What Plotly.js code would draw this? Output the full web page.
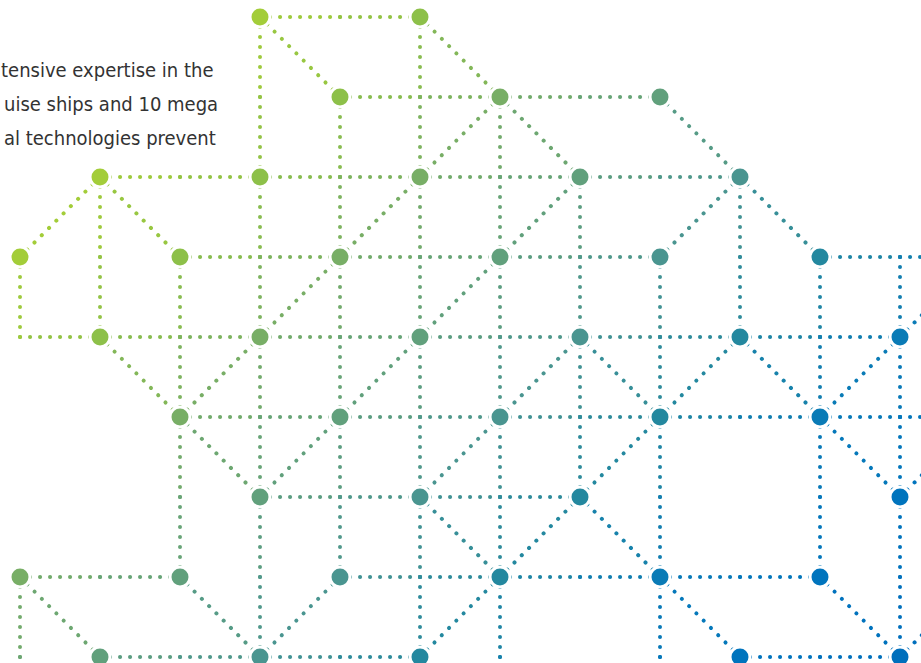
<!DOCTYPE html>
<html>
<head>
<meta charset="utf-8">
<script src="https://cdn.plot.ly/plotly-3.0.1.min.js"></script>
<style>
  html, body { margin: 0; padding: 0; background: #ffffff; }
  #chart { width: 921px; height: 663px; }
  .scatterlayer .js-line { stroke-linecap: round !important; }
</style>
</head>
<body>
<div id="chart"></div>
<script>
// ---- Data (grid coordinates: column, row) ----
const nodeCols = [3,5, 4,6,8, 1,3,5,7,9, 0,2,4,6,8,10, 1,3,5,7,9,11, 2,4,6,8,10, 3,5,7,11, 0,2,4,6,8,10, 1,3,5,9,11];
const nodeRows = [0,0, 1,1,1, 2,2,2,2,2, 3,3,3,3,3,3, 4,4,4,4,4,4, 5,5,5,5,5, 6,6,6,6, 7,7,7,7,7,7, 8,8,8,8,8];

// horizontal runs: [row, fromCol, toCol]
const hRuns = [[0,3,5],[1,4,8],[2,1,9],[3,2,8],[3,10,11.6],[4,0,11],[5,2,11.6],[6,3,7],[7,0,2],[7,4,10],[8,1,5],[8,9,11]];
// vertical runs: [col, fromRow, toRow]
const vRuns = [[0,3,4],[0,7,8.3],[1,2,4],[2,3,7],[3,0,8],[4,1,7],[5,0,8],[6,1,8.3],[7,2,6],[8,3,8.3],[9,2,4],[10,3,7],[11,3,8]];
// diagonal links: [col1,row1,col2,row2]
const dLinks = [[3,0,4,1],[5,0,6,1],[6,1,5,2],[6,1,7,2],[8,1,9,2],[9,2,8,3],[9,2,10,3],[7,2,6,3],[5,2,4,3],
  [1,2,0,3],[1,2,2,3],[4,3,3,4],[6,3,5,4],[3,4,2,5],[1,4,2,5],[5,4,4,5],[7,4,6,5],[7,4,8,5],[9,4,8,5],
  [9,4,10,5],[11,4,10,5],[11,4,11.6,3.4],[2,5,3,6],[4,5,3,6],[6,5,5,6],[8,5,7,6],[10,5,11,6],[11,6,11.6,5.4],
  [5,6,6,7],[7,6,6,7],[7,6,8,7],[0,7,1,8],[2,7,3,8],[4,7,3,8],[6,7,5,8],[8,7,9,8],[10,7,11,8],[11,8,11.6,7.4]];

// text fragments (cut off at the left edge in the original)
const textLines = ["tensive expertise in the", "uise ships and 10 mega", "al technologies prevent"];

// ---- Styling helpers ----
const STEP = 80; // px per grid unit
const OX = 20, OY = 17;
const stops = [[277,'#a3cd39'],[437,'#8dc049'],[597,'#78ae66'],[757,'#61a07c'],[917,'#4a9590'],
               [1077,'#24889f'],[1237,'#0a7bb6'],[1397,'#0074bd'],[1557,'#006fbc']];
function hex2rgb(h){ return [parseInt(h.slice(1,3),16),parseInt(h.slice(3,5),16),parseInt(h.slice(5,7),16)]; }
function colorAt(c, r){
  const t = (OX + STEP*c) + (OY + STEP*r);
  if (t <= stops[0][0]) return stops[0][1];
  if (t >= stops[stops.length-1][0]) return stops[stops.length-1][1];
  for (let i=0;i<stops.length-1;i++){
    const [t0,c0] = stops[i], [t1,c1] = stops[i+1];
    if (t>=t0 && t<=t1){
      const f=(t-t0)/(t1-t0), a=hex2rgb(c0), b=hex2rgb(c1);
      return 'rgb('+a.map((v,k)=>Math.round(v+(b[k]-v)*f)).join(',')+')';
    }
  }
}
function pieces(a,b){ const out=[]; let s=a; while(s<b-1e-9){ const e=Math.min(s+1,b); out.push([s,e]); s=e; } return out; }

const traces = [];
const DASH_HV = '0.1px,9.9px';
const DASH_D = '0.1px,10.185px';
function addSeg(x1,y1,x2,y2,dash){
  traces.push({type:'scatter', mode:'lines', x:[x1,x2], y:[y1,y2], hoverinfo:'skip',
    line:{color: colorAt((x1+x2)/2,(y1+y2)/2), width:4, dash:dash}});
}
hRuns.forEach(([r,a,b]) => pieces(a,b).forEach(([s,e]) => addSeg(s,r,e,r,DASH_HV)));
vRuns.forEach(([c,a,b]) => pieces(a,b).forEach(([s,e]) => addSeg(c,s,c,e,DASH_HV)));
dLinks.forEach(([c1,r1,c2,r2]) => addSeg(c1,r1,c2,r2,DASH_D));

traces.push({type:'scatter', mode:'markers', x:nodeCols, y:nodeRows, hoverinfo:'skip',
  marker:{size:20, color:nodeCols.map((c,i)=>colorAt(c,nodeRows[i])), line:{color:'#ffffff', width:3}}});

const W=921, H=663;
const textRight = [215, 220, 218];
const textY = [70, 104, 138];
const annotations = textLines.map((t,i)=>({
  text:t, xref:'paper', yref:'paper', x:textRight[i]/W, y:1-textY[i]/H,
  xanchor:'right', yanchor:'middle', showarrow:false,
  font:{family:'"DejaVu Sans Condensed", Roboto, Arial, sans-serif', size:20, color:'#333333'}
}));

const layout = {
  width:W, height:H, margin:{l:0,r:0,t:0,b:0}, paper_bgcolor:'#ffffff', plot_bgcolor:'#ffffff',
  showlegend:false, annotations:annotations,
  xaxis:{range:[-OX/STEP, (W-OX)/STEP], visible:false, fixedrange:true},
  yaxis:{range:[(H-OY)/STEP, -OY/STEP], visible:false, fixedrange:true}
};
Plotly.newPlot('chart', traces, layout, {displayModeBar:false, staticPlot:true});
</script>
</body>
</html>
